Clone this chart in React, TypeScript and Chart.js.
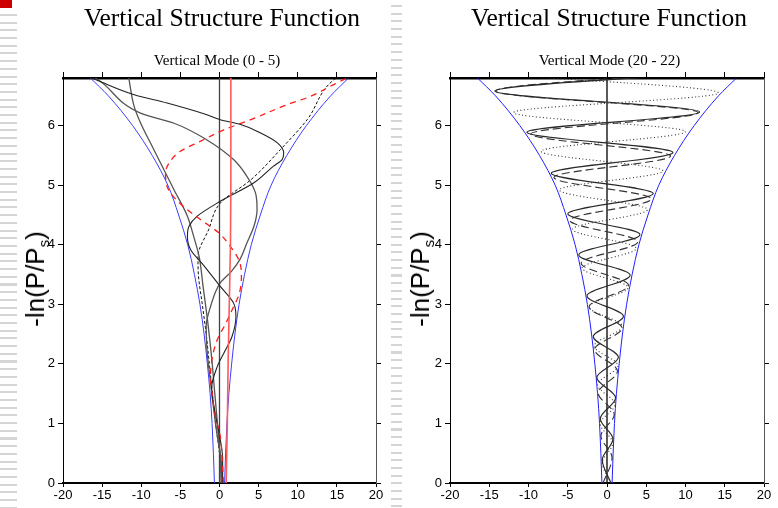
import React, { useEffect, useRef } from "react";
import { Chart, registerables } from "chart.js";

Chart.register(...registerables);

// ---------- axes ----------
const X_MIN = -20;
const X_MAX = 20;
const X_STEP = 5;
const Y_MIN = 0;
const Y_MAX = 6.8;
const Y_STEP = 1;
const ZERO_LINE_X = 0;

// ---------- envelope (both panels) ----------
const envelopeHeights = [0, 0.5, 1, 1.5, 2, 2.5, 3, 3.5, 4, 4.5, 5, 5.5, 6, 6.5, 6.8];
const envelopeHalfWidth = [0.65, 0.78, 0.95, 1.2, 1.55, 1.97, 2.5, 3.2, 4.06, 5.22, 6.6, 8.6, 11.1, 14.2, 16.5];

// ---------- left panel: vertical modes 0 - 5 ----------
const mode0Heights = [0, 1, 2, 3, 4, 5, 6, 6.8];
const mode0Values = [0.85, 1.0, 1.1, 1.25, 1.4, 1.45, 1.45, 1.45];

const redDashHeights = [0, 0.4, 0.78, 1.11, 1.45, 1.79, 2.12, 2.4, 2.68, 2.96, 3.17, 3.45, 3.7, 3.97, 4.2, 4.42, 4.64, 4.92, 5.2, 5.4, 5.57, 5.74, 5.93, 6.1, 6.35, 6.49, 6.69, 6.8];
const redDashValues = [0.5, 0.35, 0.1, -0.5, -0.9, -1.15, -0.9, -0.3, 0.8, 1.8, 2.5, 2.8, 2.6, 1.4, -0.1, -2.4, -4.6, -6.5, -6.9, -6.3, -5.0, -2.4, 0.55, 4.0, 8.6, 11.6, 14.6, 16.3];

const modeAHeights = [0, 0.4, 0.8, 1.2, 1.6, 1.95, 2.18, 2.46, 2.8, 3.02, 3.3, 3.65, 3.92, 4.14, 4.31, 4.48, 4.73, 5.04, 5.32, 5.43, 5.54, 5.71, 5.88, 6.02, 6.1, 6.2, 6.38, 6.52, 6.77, 6.8];
const modeAValues = [0.4, 0.4, 0.0, -0.6, -1.0, -0.3, 0.55, 1.6, 2.1, 1.8, 0.1, -2.0, -3.7, -4.1, -3.9, -2.85, 0.1, 4.4, 6.9, 8.0, 8.2, 7.4, 5.2, 2.7, 0.1, -2.0, -6.7, -10.9, -15.8, -16.4];

const modeBHeights = [0, 0.4, 0.8, 1.3, 1.8, 2.24, 2.63, 2.96, 3.36, 3.55, 3.75, 4.03, 4.31, 4.59, 4.87, 5.15, 5.43, 5.76, 6.04, 6.21, 6.77, 6.8];
const modeBValues = [0.3, 0.2, -0.3, -0.8, -1.25, -1.6, -1.7, -1.15, 0.1, 1.5, 2.6, 3.5, 4.4, 4.8, 4.6, 3.5, 1.8, -1.6, -5.8, -10.1, -15.5, -15.9];

const modeCHeights = [0, 0.4, 0.9, 1.5, 2.1, 2.7, 3.3, 3.8, 4.14, 4.48, 4.92, 5.26, 5.6, 6.05, 6.32, 6.8];
const modeCValues = [0.2, 0.1, -0.2, -0.6, -1.0, -1.5, -2.1, -2.6, -3.3, -4.1, -5.8, -7.1, -8.4, -10.1, -10.9, -11.6];

const modeDHeights = [0, 0.5, 1.0, 1.5, 2.0, 2.5, 3.0, 3.5, 3.8, 4.25, 4.7, 5.09, 5.6, 6.1, 6.77, 6.8];
const modeDValues = [0.3, 0.0, -0.5, -0.9, -1.3, -1.7, -2.2, -2.7, -2.75, -1.4, 0.1, 4.0, 7.8, 11.2, 14.6, 15.0];

// ---------- right panel: vertical modes 20 - 22 ----------
const solidHeights = [0, 0.39, 0.74, 1.08, 1.43, 1.77, 2.11, 2.46, 2.8, 3.14, 3.49, 3.83, 4.17, 4.52, 4.86, 5.2, 5.55, 5.89, 6.23, 6.58, 6.92];
const solidValues = [0.5, -0.6, 0.75, -0.85, 1.1, -1.3, 1.45, -1.75, 2.1, -2.55, 2.95, -3.6, 4.2, -5.0, 5.9, -7.1, 8.4, -10.2, 11.8, -14.3, 17.0];

const dashedHeights = [0, 0.43, 0.79, 1.15, 1.51, 1.88, 2.24, 2.6, 2.96, 3.32, 3.69, 4.05, 4.41, 4.77, 5.13, 5.49, 5.86, 6.22, 6.58, 6.94];
const dashedValues = [-0.5, 0.64, -0.77, 0.92, -1.11, 1.33, -1.59, 1.91, -2.28, 2.74, -3.29, 3.94, -4.72, 5.66, -6.76, 8.1, -9.7, 11.6, -14.2, 16.7];

const dottedHeights = [0, 0.34, 0.67, 0.99, 1.32, 1.65, 1.97, 2.3, 2.63, 2.96, 3.28, 3.61, 3.94, 4.26, 4.59, 4.92, 5.24, 5.57, 5.9, 6.22, 6.55, 6.88];
const dottedValues = [0.5, -0.6, 0.73, -0.85, 1.0, -1.19, 1.39, -1.64, 1.94, -2.28, 2.68, -3.16, 3.73, -4.38, 5.16, -6.08, 7.13, -8.4, 10.0, -11.9, 14.2, -16.5];

// ---------- helpers ----------
function pts(h: number[], v: number[]) {
  return h.map((y, i) => ({ x: v[i], y }));
}

function curve(h: number[], v: number[], color: string, width: number, dash: number[] = []) {
  return {
    data: pts(h, v),
    borderColor: color,
    borderWidth: width,
    borderDash: dash,
    pointRadius: 0,
    fill: false,
    cubicInterpolationMode: "monotone" as const,
    xAxisID: "x",
    yAxisID: "y",
  };
}

const zeroLinePlugin = {
  id: "zeroLine",
  beforeDatasetsDraw(chart: any, _args: any, opts: any) {
    const { ctx, chartArea, scales } = chart;
    const px = scales.x.getPixelForValue(ZERO_LINE_X);
    ctx.save();
    ctx.strokeStyle = opts.color;
    ctx.lineWidth = opts.width;
    ctx.beginPath();
    ctx.moveTo(px, chartArea.top);
    ctx.lineTo(px, chartArea.bottom);
    ctx.stroke();
    ctx.restore();
  },
};

const tickFont = { family: "'Liberation Sans', Arial, sans-serif", size: 13 };

function makeOptions(leftW: number, rightW: number, zeroColor: string) {
  return {
    responsive: false,
    animation: false as const,
    indexAxis: "y" as const,
    events: [],
    layout: { padding: 0 },
    plugins: {
      legend: { display: false },
      title: { display: false },
      tooltip: { enabled: false },
      zeroLine: { color: zeroColor, width: 1.3 },
    },
    scales: {
      x: {
        type: "linear",
        axis: "x",
        position: "bottom",
        min: X_MIN,
        max: X_MAX,
        ticks: { stepSize: X_STEP, color: "#000", font: tickFont, padding: 1, maxRotation: 0, autoSkip: false, includeBounds: false },
        grid: { drawOnChartArea: false, drawTicks: true, tickLength: 4, color: "#000" },
        border: { color: "#000", width: 2 },
        afterFit: (s: any) => { s.height = 25; },
      },
      x2: {
        type: "linear",
        axis: "x",
        position: "top",
        min: X_MIN,
        max: X_MAX,
        ticks: { stepSize: X_STEP, display: false, includeBounds: false },
        grid: { drawOnChartArea: false, drawTicks: true, tickLength: 6, color: "#000" },
        border: { color: "#000", width: 2.5 },
        afterFit: (s: any) => { s.height = 78; },
      },
      y: {
        type: "linear",
        axis: "y",
        position: "left",
        min: Y_MIN,
        max: Y_MAX,
        ticks: { stepSize: Y_STEP, color: "#000", font: tickFont, padding: 3, includeBounds: false },
        grid: { drawOnChartArea: false, drawTicks: true, tickLength: 5, color: "#000" },
        border: { color: "#000", width: 1 },
        afterFit: (s: any) => { s.width = leftW; },
      },
      y2: {
        type: "linear",
        axis: "y",
        position: "right",
        min: Y_MIN,
        max: Y_MAX,
        ticks: { stepSize: Y_STEP, display: false, includeBounds: false },
        grid: { drawOnChartArea: false, drawTicks: true, tickLength: 5, color: "#000" },
        border: { color: "#555", width: 1 },
        afterFit: (s: any) => { s.width = rightW; },
      },
    },
  };
}

function envelopeSets(color: string) {
  return [
    curve(envelopeHeights, envelopeHalfWidth, color, 1),
    curve(envelopeHeights, envelopeHalfWidth.map((v) => -v), color, 1),
  ];
}

function leftDatasets() {
  return [
    curve(mode0Heights, mode0Values, "#ff5a5a", 1.6),
    curve(redDashHeights, redDashValues, "#ff1a1a", 1.3, [6, 5]),
    curve(modeAHeights, modeAValues, "#222222", 1.1),
    curve(modeBHeights, modeBValues, "#555555", 1.3),
    curve(modeCHeights, modeCValues, "#555555", 1.3),
    curve(modeDHeights, modeDValues, "#111111", 1.0, [3, 2]),
    ...envelopeSets("#3d3dff"),
  ];
}

function rightDatasets() {
  return [
    curve(solidHeights, solidValues, "#2a2a2a", 1.15),
    curve(dashedHeights, dashedValues, "#333333", 1.1, [8, 4]),
    curve(dottedHeights, dottedValues, "#333333", 1.1, [1, 2.5]),
    ...envelopeSets("#2020ff"),
  ];
}

function Panel(props: { left: number; width: number; leftW: number; rightW: number; datasets: () => any[]; zeroColor: string }) {
  const ref = useRef<HTMLCanvasElement | null>(null);
  useEffect(() => {
    if (!ref.current) return;
    const chart = new Chart(ref.current, {
      type: "line",
      data: { datasets: props.datasets() },
      options: makeOptions(props.leftW, props.rightW, props.zeroColor) as any,
      plugins: [zeroLinePlugin],
    });
    return () => chart.destroy();
  }, []);
  return (
    <canvas
      ref={ref}
      width={props.width}
      height={508}
      style={{ position: "absolute", left: props.left, top: 0, width: props.width, height: 508 }}
    />
  );
}

const serif = "'Liberation Serif', 'Times New Roman', serif";
const sans = "'Liberation Sans', Arial, sans-serif";

function Title(props: { cx: number; text: string }) {
  return (
    <div style={{ position: "absolute", left: props.cx - 200, top: 3, width: 400, textAlign: "center", fontFamily: serif, fontSize: 25.5, lineHeight: "30px", whiteSpace: "nowrap", color: "#000" }}>
      {props.text}
    </div>
  );
}

function SubTitle(props: { cx: number; text: string }) {
  return (
    <div style={{ position: "absolute", left: props.cx - 150, top: 51, width: 300, textAlign: "center", fontFamily: serif, fontSize: 15, lineHeight: "18px", whiteSpace: "nowrap", color: "#000" }}>
      {props.text}
    </div>
  );
}

function YLabel(props: { cx: number; cy: number }) {
  return (
    <div style={{ position: "absolute", left: props.cx, top: props.cy, transform: "translate(-50%, -50%) rotate(-90deg)", fontFamily: sans, fontSize: 26, lineHeight: "26px", whiteSpace: "nowrap", color: "#000" }}>
      -ln(P/P<span style={{ fontSize: 15, lineHeight: "0px", position: "relative", top: 5 }}>s</span>)
    </div>
  );
}

const stripe = "repeating-linear-gradient(to bottom, #d5d5d5 0px, #d5d5d5 2px, transparent 2px, transparent 7.7px)";

export default function App() {
  return (
    <div style={{ position: "fixed", left: 0, top: 0, width: 778, height: 508, background: "#fff", overflow: "hidden" }}>
      <div style={{ position: "absolute", left: 0, top: 14, width: 17, height: 494, backgroundImage: stripe }} />
      <div style={{ position: "absolute", left: 0, top: 0, width: 12, height: 8, background: "#cc0000" }} />
      <div style={{ position: "absolute", left: 391, top: 5, width: 11, height: 503, backgroundImage: stripe }} />

      <Panel left={0} width={390} leftW={63} rightW={14} datasets={leftDatasets} zeroColor="#444444" />
      <Panel left={390} width={388} leftW={60} rightW={14} datasets={rightDatasets} zeroColor="#000000" />

      <Title cx={222} text="Vertical Structure Function" />
      <Title cx={609} text="Vertical Structure Function" />
      <SubTitle cx={217} text="Vertical Mode (0 - 5)" />
      <SubTitle cx={609.5} text="Vertical Mode (20 - 22)" />
      <YLabel cx={34.6} cy={278.5} />
      <YLabel cx={419.6} cy={278.5} />
    </div>
  );
}
